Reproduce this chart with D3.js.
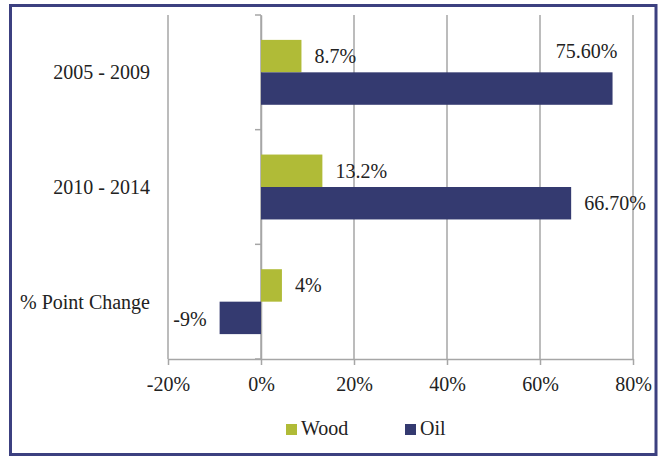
<!DOCTYPE html>
<html>
<head>
<meta charset="utf-8">
<script src="https://cdn.jsdelivr.net/npm/d3@7"></script>
<style>
  html, body { margin: 0; padding: 0; background: #fff; }
</style>
</head>
<body>
<div id="chart"></div>
<script>
const categories = ["2005 - 2009", "2010 - 2014", "% Point Change"];
const seriesNames = ["Wood", "Oil"];
const wood = [8.7, 13.2, 4.5];
const oil = [75.6, 66.7, -8.9];
const woodLabels = ["8.7%", "13.2%", "4%"];
const oilLabels = ["75.60%", "66.70%", "-9%"];
const xTicks = [-20, 0, 20, 40, 60, 80];

const colors = { Wood: "#b0bb37", Oil: "#343a70" };
const FONT = '"Liberation Serif"';

const width = 659, height = 456;
const plot = { left: 168, right: 633, top: 15, bottom: 359 };

const svg = d3.select("#chart").append("svg")
  .attr("width", width)
  .attr("height", height)
  .style("display", "block");

// outer frame
svg.append("rect")
  .attr("x", 10.5).attr("y", 5.5)
  .attr("width", 645.5).attr("height", 449)
  .attr("fill", "none")
  .attr("stroke", "#3c4080")
  .attr("stroke-width", 3);

const x = d3.scaleLinear().domain([-20, 80]).range([plot.left, plot.right]);
const y = d3.scaleBand().domain(categories).range([plot.top, plot.bottom]);
const bandPad = 0.217;
const inner = d3.scaleBand().domain(seriesNames)
  .range([y.bandwidth() * bandPad, y.bandwidth() * (1 - bandPad)]);

// vertical gridlines
svg.append("g").selectAll("line")
  .data(xTicks)
  .join("line")
  .attr("x1", d => x(d)).attr("x2", d => x(d))
  .attr("y1", plot.top).attr("y2", plot.bottom)
  .attr("stroke", "#a6a6a6")
  .attr("stroke-width", 1.5);

// x axis
const xAxis = svg.append("g")
  .attr("transform", `translate(0,${plot.bottom})`)
  .call(d3.axisBottom(x).tickValues(xTicks).tickFormat(d => d + "%").tickSize(6).tickSizeOuter(0));
xAxis.select(".domain").attr("stroke", "#a6a6a6").attr("stroke-width", 1.5);
xAxis.selectAll(".tick line").attr("stroke", "#a6a6a6").attr("stroke-width", 1.5);
xAxis.selectAll(".tick text")
  .style("font-family", FONT)
  .style("font-size", "20px")
  .attr("fill", "#222")
  .attr("y", 18)
  .attr("dy", "0.71em");

// y axis at 0
const yAxis = svg.append("g")
  .attr("transform", `translate(${x(0)},0)`)
  .call(d3.axisLeft(y).tickValues([]).tickSizeOuter(0));
yAxis.select(".domain").attr("stroke", "#a6a6a6").attr("stroke-width", 1.5);
svg.append("g").selectAll("line")
  .data(categories.concat(["end"]))
  .join("line")
  .attr("x1", x(0) - 6).attr("x2", x(0))
  .attr("y1", (d, i) => plot.top + i * y.bandwidth())
  .attr("y2", (d, i) => plot.top + i * y.bandwidth())
  .attr("stroke", "#a6a6a6")
  .attr("stroke-width", 1.5);

// category labels
svg.append("g").selectAll("text")
  .data(categories)
  .join("text")
  .attr("x", 150)
  .attr("y", d => y(d) + y.bandwidth() / 2)
  .attr("dy", "0.35em")
  .attr("text-anchor", "end")
  .style("font-family", FONT)
  .style("font-size", "20px")
  .attr("fill", "#222")
  .text(d => d);

const rows = [];
categories.forEach((c, i) => {
  rows.push({ cat: c, series: "Wood", value: wood[i], label: woodLabels[i] });
  rows.push({ cat: c, series: "Oil", value: oil[i], label: oilLabels[i] });
});

// bars
svg.append("g").selectAll("rect")
  .data(rows)
  .join("rect")
  .attr("x", d => x(Math.min(0, d.value)))
  .attr("width", d => Math.abs(x(d.value) - x(0)))
  .attr("y", d => y(d.cat) + inner(d.series))
  .attr("height", inner.bandwidth())
  .attr("fill", d => colors[d.series]);

// data labels
const gap = 13;
svg.append("g").selectAll("text")
  .data(rows)
  .join("text")
  .style("font-family", FONT)
  .style("font-size", "20px")
  .attr("fill", "#222")
  .attr("dy", "0.35em")
  .each(function (d) {
    const t = d3.select(this);
    const cy = y(d.cat) + inner(d.series) + inner.bandwidth() / 2;
    if (d.label === "75.60%") {
      // this one was dragged above its bar
      const woodMid = y(d.cat) + inner("Wood") + inner.bandwidth() / 2;
      t.attr("x", x(d.value) + 5).attr("y", woodMid - 5).attr("text-anchor", "end");
    } else if (d.value < 0) {
      t.attr("x", x(d.value) - gap).attr("y", cy + 1).attr("text-anchor", "end");
    } else {
      t.attr("x", x(d.value) + gap).attr("y", cy).attr("text-anchor", "start");
    }
  })
  .text(d => d.label);

// legend
const legend = svg.append("g").attr("transform", "translate(286,424)");
const legendX = { Wood: 0, Oil: 119 };
seriesNames.forEach(s => {
  const g = legend.append("g").attr("transform", `translate(${legendX[s]},0)`);
  g.append("rect").attr("width", 11).attr("height", 11).attr("fill", colors[s]);
  g.append("text").attr("x", 15).attr("y", 11)
    .style("font-family", FONT).style("font-size", "20px")
    .attr("fill", "#222").text(s);
});
</script>
</body>
</html>
